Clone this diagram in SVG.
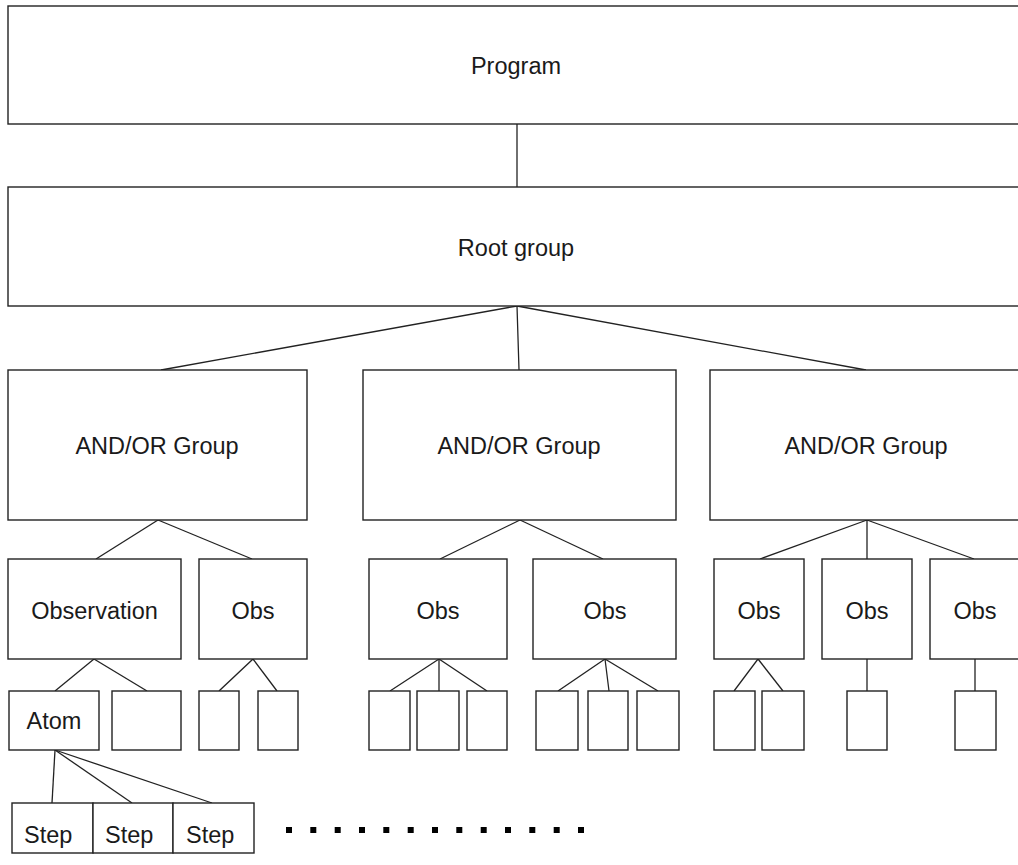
<svg xmlns="http://www.w3.org/2000/svg" width="1018" height="865" viewBox="0 0 1018 865">
  <style>
    .box { fill: #ffffff; stroke: #222222; stroke-width: 1.4; }
    .link { fill: none; stroke: #222222; stroke-width: 1.3; }
    .label { font-family: "Liberation Sans", Arial, sans-serif; font-size: 23.5px; fill: #1a1a1a; text-anchor: middle; }
    .left { text-anchor: start; }
    .dot { fill: #000000; }
  </style>
  <rect width="1018" height="865" fill="#ffffff"/>

  <!-- connectors -->
  <g id="connectors">
    <line class="link" x1="517" y1="124" x2="517" y2="187"/>
    <line class="link" x1="517" y1="306" x2="161" y2="370"/>
    <line class="link" x1="517" y1="306" x2="519" y2="370"/>
    <line class="link" x1="517" y1="306" x2="866" y2="370"/>

    <line class="link" x1="158" y1="520" x2="96" y2="559"/>
    <line class="link" x1="158" y1="520" x2="252" y2="559"/>
    <line class="link" x1="520" y1="520" x2="440" y2="559"/>
    <line class="link" x1="520" y1="520" x2="603" y2="559"/>
    <line class="link" x1="867" y1="520" x2="760" y2="559"/>
    <line class="link" x1="867" y1="520" x2="867" y2="559"/>
    <line class="link" x1="867" y1="520" x2="974" y2="559"/>

    <line class="link" x1="94" y1="659" x2="55" y2="691"/>
    <line class="link" x1="94" y1="659" x2="147" y2="691"/>
    <line class="link" x1="253" y1="659" x2="219" y2="691"/>
    <line class="link" x1="253" y1="659" x2="277" y2="691"/>
    <line class="link" x1="439" y1="659" x2="390" y2="691"/>
    <line class="link" x1="439" y1="659" x2="439" y2="691"/>
    <line class="link" x1="439" y1="659" x2="487" y2="691"/>
    <line class="link" x1="605" y1="659" x2="558" y2="691"/>
    <line class="link" x1="605" y1="659" x2="609" y2="691"/>
    <line class="link" x1="605" y1="659" x2="658" y2="691"/>
    <line class="link" x1="758" y1="659" x2="734" y2="691"/>
    <line class="link" x1="758" y1="659" x2="783" y2="691"/>
    <line class="link" x1="867" y1="659" x2="867" y2="691"/>
    <line class="link" x1="975" y1="659" x2="975" y2="691"/>

    <line class="link" x1="55" y1="750" x2="52" y2="803"/>
    <line class="link" x1="55" y1="750" x2="132" y2="803"/>
    <line class="link" x1="55" y1="750" x2="212" y2="803"/>
  </g>

  <!-- top levels -->
  <g id="program">
    <rect class="box" x="8" y="6" width="1030" height="118"/>
    <text class="label" x="516" y="74">Program</text>
  </g>
  <g id="root-group">
    <rect class="box" x="8" y="187" width="1030" height="119"/>
    <text class="label" x="516" y="256">Root group</text>
  </g>

  <!-- AND/OR groups -->
  <g id="group-1">
    <rect class="box" x="8" y="370" width="299" height="150"/>
    <text class="label" x="157" y="454">AND/OR Group</text>
  </g>
  <g id="group-2">
    <rect class="box" x="363" y="370" width="313" height="150"/>
    <text class="label" x="519" y="454">AND/OR Group</text>
  </g>
  <g id="group-3">
    <rect class="box" x="710" y="370" width="330" height="150"/>
    <text class="label" x="866" y="454">AND/OR Group</text>
  </g>

  <!-- observations -->
  <g id="observation">
    <rect class="box" x="8" y="559" width="173" height="100"/>
    <text class="label" x="94.5" y="619">Observation</text>
  </g>
  <g id="obs-1">
    <rect class="box" x="199" y="559" width="108" height="100"/>
    <text class="label" x="253" y="619">Obs</text>
  </g>
  <g id="obs-2">
    <rect class="box" x="369" y="559" width="138" height="100"/>
    <text class="label" x="438" y="619">Obs</text>
  </g>
  <g id="obs-3">
    <rect class="box" x="533" y="559" width="143" height="100"/>
    <text class="label" x="605" y="619">Obs</text>
  </g>
  <g id="obs-4">
    <rect class="box" x="714" y="559" width="90" height="100"/>
    <text class="label" x="759" y="619">Obs</text>
  </g>
  <g id="obs-5">
    <rect class="box" x="822" y="559" width="90" height="100"/>
    <text class="label" x="867" y="619">Obs</text>
  </g>
  <g id="obs-6">
    <rect class="box" x="930" y="559" width="92" height="100"/>
    <text class="label" x="975" y="619">Obs</text>
  </g>

  <!-- atoms -->
  <g id="atom">
    <rect class="box" x="9" y="691" width="90" height="59"/>
    <text class="label" x="54" y="729">Atom</text>
  </g>
  <g id="atom-2"><rect class="box" x="112" y="691" width="69" height="59"/></g>
  <g id="atom-3"><rect class="box" x="199" y="691" width="40" height="59"/></g>
  <g id="atom-4"><rect class="box" x="258" y="691" width="40" height="59"/></g>
  <g id="atom-5"><rect class="box" x="369" y="691" width="41" height="59"/></g>
  <g id="atom-6"><rect class="box" x="417" y="691" width="42" height="59"/></g>
  <g id="atom-7"><rect class="box" x="467" y="691" width="40" height="59"/></g>
  <g id="atom-8"><rect class="box" x="536" y="691" width="42" height="59"/></g>
  <g id="atom-9"><rect class="box" x="588" y="691" width="40" height="59"/></g>
  <g id="atom-10"><rect class="box" x="637" y="691" width="42" height="59"/></g>
  <g id="atom-11"><rect class="box" x="714" y="691" width="41" height="59"/></g>
  <g id="atom-12"><rect class="box" x="762" y="691" width="42" height="59"/></g>
  <g id="atom-13"><rect class="box" x="847" y="691" width="40" height="59"/></g>
  <g id="atom-14"><rect class="box" x="955" y="691" width="41" height="59"/></g>

  <!-- steps -->
  <g id="step-1">
    <rect class="box" x="12" y="803" width="81" height="50"/>
    <text class="label left" x="24" y="843">Step</text>
  </g>
  <g id="step-2">
    <rect class="box" x="93" y="803" width="80" height="50"/>
    <text class="label left" x="105" y="843">Step</text>
  </g>
  <g id="step-3">
    <rect class="box" x="173" y="803" width="81" height="50"/>
    <text class="label left" x="186" y="843">Step</text>
  </g>

  <!-- continuation dots -->
  <g id="ellipsis">
    <rect class="dot" x="286" y="827" width="6" height="6"/>
    <rect class="dot" x="310.3" y="827" width="6" height="6"/>
    <rect class="dot" x="334.7" y="827" width="6" height="6"/>
    <rect class="dot" x="359" y="827" width="6" height="6"/>
    <rect class="dot" x="383.3" y="827" width="6" height="6"/>
    <rect class="dot" x="407.7" y="827" width="6" height="6"/>
    <rect class="dot" x="432" y="827" width="6" height="6"/>
    <rect class="dot" x="456.3" y="827" width="6" height="6"/>
    <rect class="dot" x="480.7" y="827" width="6" height="6"/>
    <rect class="dot" x="505" y="827" width="6" height="6"/>
    <rect class="dot" x="529.3" y="827" width="6" height="6"/>
    <rect class="dot" x="553.7" y="827" width="6" height="6"/>
    <rect class="dot" x="578" y="827" width="6" height="6"/>
  </g>
</svg>
